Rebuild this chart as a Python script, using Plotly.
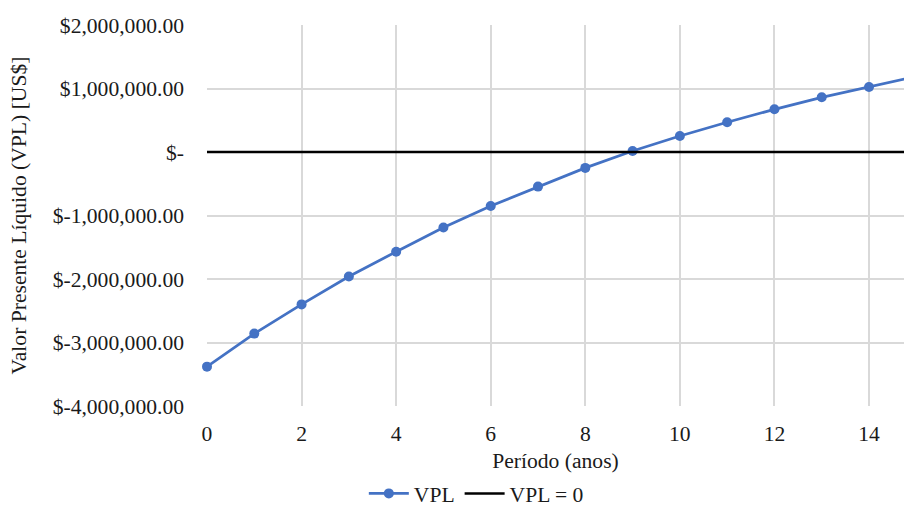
import plotly.graph_objects as go

periods = list(range(0, 16))
vpl = [-3380000, -2860000, -2400000, -1960000, -1570000, -1190000, -850000,
       -545000, -250000, 15000, 252000, 468000, 672000, 861000, 1024000, 1190000]
zero_x = [0, 15]
zero_y = [0, 0]

y_tickvals = [2000000, 1000000, 0, -1000000, -2000000, -3000000, -4000000]
y_ticktext = ["$2,000,000.00", "$1,000,000.00", "$-", "$-1,000,000.00",
              "$-2,000,000.00", "$-3,000,000.00", "$-4,000,000.00"]
x_tickvals = [0, 2, 4, 6, 8, 10, 12, 14]

FONT = "Liberation Serif"
TXT = "#1a1a1a"
FS = 21.6

fig = go.Figure()
fig.add_trace(go.Scatter(
    x=periods, y=vpl, name="VPL", mode="lines+markers",
    line=dict(color="#4472C4", width=2.75),
    marker=dict(color="#4472C4", size=10),
    cliponaxis=False,
))
fig.add_trace(go.Scatter(
    x=zero_x, y=zero_y, name="VPL = 0", mode="lines",
    line=dict(color="#000000", width=2.5),
))

fig.update_layout(
    width=904, height=506,
    margin=dict(l=207, r=0, t=25, b=100),
    paper_bgcolor="white", plot_bgcolor="white",
    font=dict(family=FONT, size=FS, color=TXT),
    showlegend=True,
    legend=dict(orientation="h", x=0.225, xanchor="left",
                yref="container", y=0.024, yanchor="middle",
                font=dict(family=FONT, size=FS, color=TXT),
                itemwidth=40, tracegroupgap=0, traceorder="normal"),
    xaxis=dict(
        range=[0, 14.74], tickvals=x_tickvals, ticktext=[str(v) for v in x_tickvals],
        showgrid=True, gridcolor="#d9d9d9", gridwidth=1.5,
        zeroline=False, showline=False, ticks="", ticklabelstandoff=12,
        tickfont=dict(family=FONT, size=FS, color=TXT),
        automargin=False,
        title=dict(text="Período (anos)", font=dict(family=FONT, size=FS, color=TXT), standoff=10),
    ),
    yaxis=dict(
        range=[-4000000, 2000000], tickvals=y_tickvals, ticktext=y_ticktext,
        showgrid=True, gridcolor="#d9d9d9", gridwidth=1.5,
        zeroline=False, showline=False, ticks="", ticklabelstandoff=22,
        tickfont=dict(family=FONT, size=FS, color=TXT),
        automargin=False,
        title=dict(text="Valor Presente Líquido (VPL) [US$]", font=dict(family=FONT, size=FS, color=TXT), standoff=20),
    ),
)

fig.write_html("out.html")
